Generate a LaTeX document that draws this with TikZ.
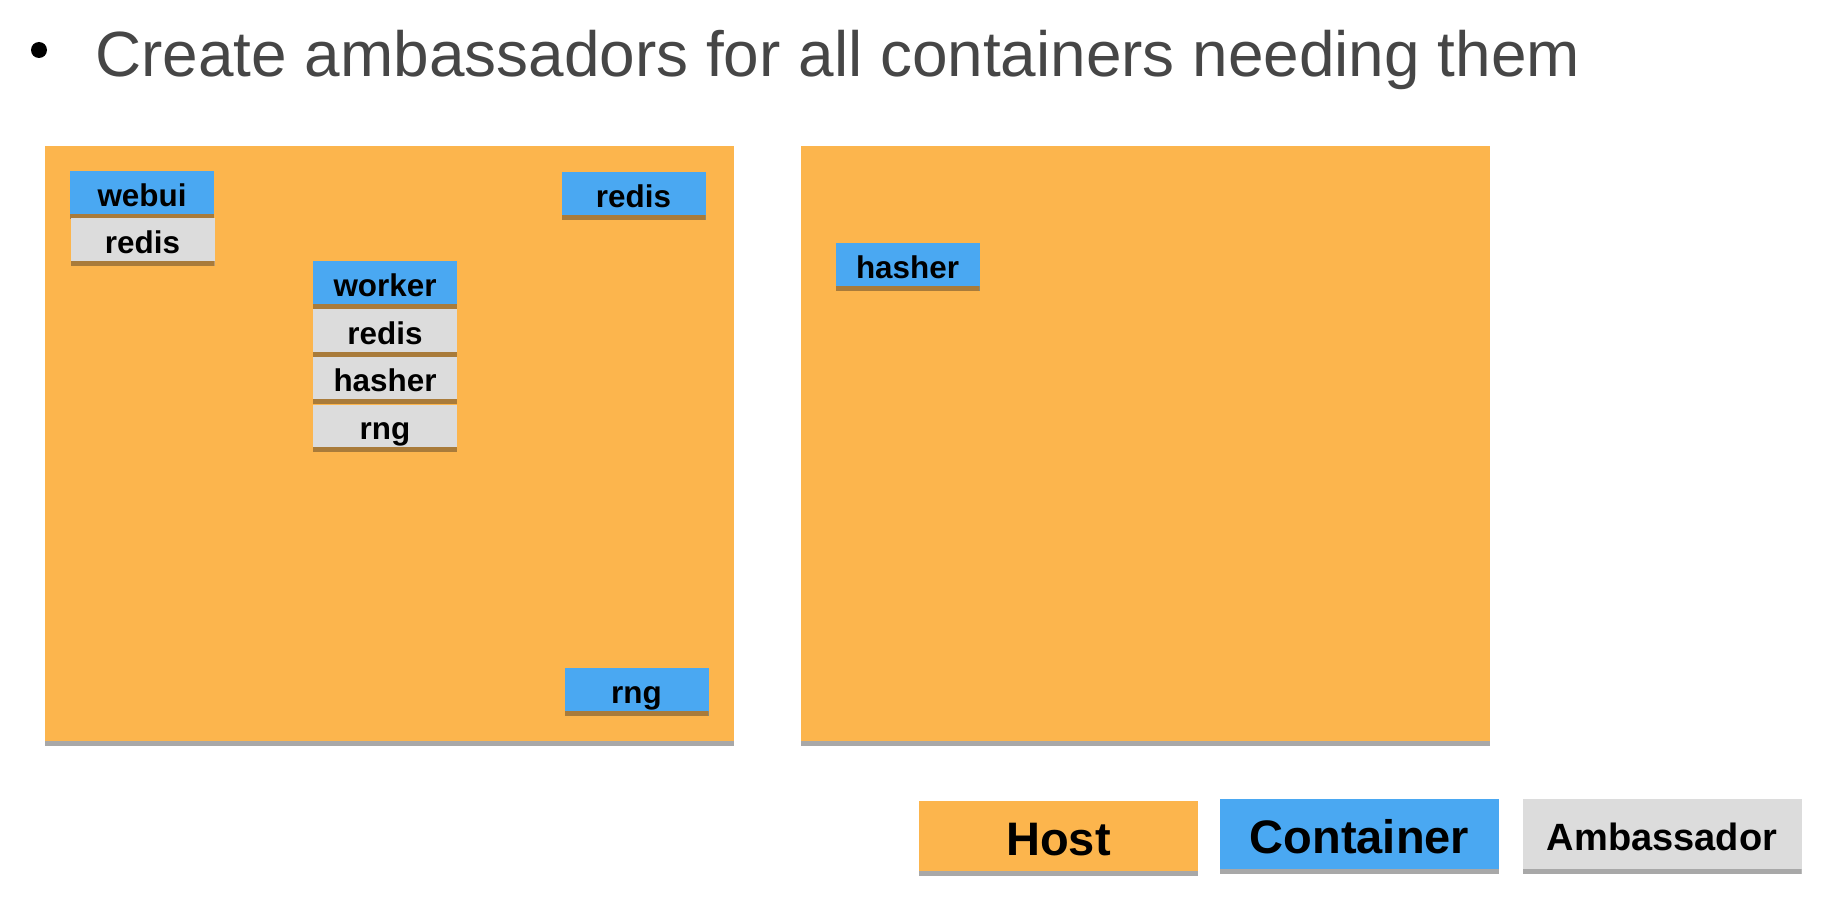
\documentclass[tikz,border=0pt]{standalone}
\usepackage{fontspec}
\setmainfont{Liberation Sans}
\definecolor{hostc}{HTML}{FCB54D}
\definecolor{contc}{HTML}{4AA8F2}
\definecolor{ambc}{HTML}{DCDCDC}
\definecolor{brownc}{HTML}{A97B3A}
\definecolor{greyc}{HTML}{A8A8A8}
\definecolor{titlec}{HTML}{464646}
\begin{document}
\begin{tikzpicture}[x=0.5pt,y=-0.5pt,
  striped/.style={path picture={\fill[#1] ([yshift=2.5pt]path picture bounding box.south west) rectangle (path picture bounding box.south east);}},
  base/.style={rectangle, inner sep=0pt, outer sep=0pt, text=black},
  hostbox/.style={base, fill=hostc, minimum width=344.5pt, minimum height=300pt, striped=greyc},
  smallbox/.style={base, minimum width=72pt, minimum height=23.75pt, striped=brownc,
     font=\fontsize{15.7}{18}\selectfont\bfseries, text height=11.2pt, text depth=0pt},
  contbox/.style={smallbox, fill=contc},
  ambbox/.style={smallbox, fill=ambc},
  legbox/.style={base, minimum width=139.5pt, minimum height=37.5pt, striped=greyc,
     font=\fontsize{23.5}{28}\selectfont\bfseries, text height=16.8pt, text depth=0pt},
]
\useasboundingbox (0,0) rectangle (1829,904);

% title
\node[circle, fill=black, minimum size=8pt, inner sep=0pt] (bullet) at (39,50) {};
\node[anchor=base west, inner sep=0pt, text=titlec, font=\fontsize{31.95}{36}\selectfont] (title) at (95,76) {Create ambassadors for all containers needing them};

% hosts
\node[hostbox] (host1) at (389.5,446) {};
\node[hostbox] (host2) at (1145.5,446) {};

% host 1 content
\node[contbox] (webui) at (142,195) {webui};
\node[ambbox] (webuiredis) at (142.5,242) {redis};

\node[contbox] (worker) at (385,285) {worker};
\node[ambbox] (wredis) at (385,333) {redis};
\node[ambbox] (whasher) at (385,380.5) {hasher};
\node[ambbox] (wrng) at (385,428.5) {rng};

\node[contbox] (redis) at (633.5,196) {redis};
\node[contbox] (rng) at (636.5,692) {rng};

% host 2 content
\node[contbox] (hasher) at (907.5,267) {hasher};

% legend
\node[legbox, fill=hostc] (lhost) at (1058.5,838.5) {Host};
\node[legbox, fill=contc] (lcont) at (1359.5,836.5) {Container};
\node[legbox, fill=ambc, font=\fontsize{19}{22}\selectfont\bfseries, text height=13.6pt] (lamb) at (1662,836.5) {Ambassador};
\end{tikzpicture}
\end{document}
